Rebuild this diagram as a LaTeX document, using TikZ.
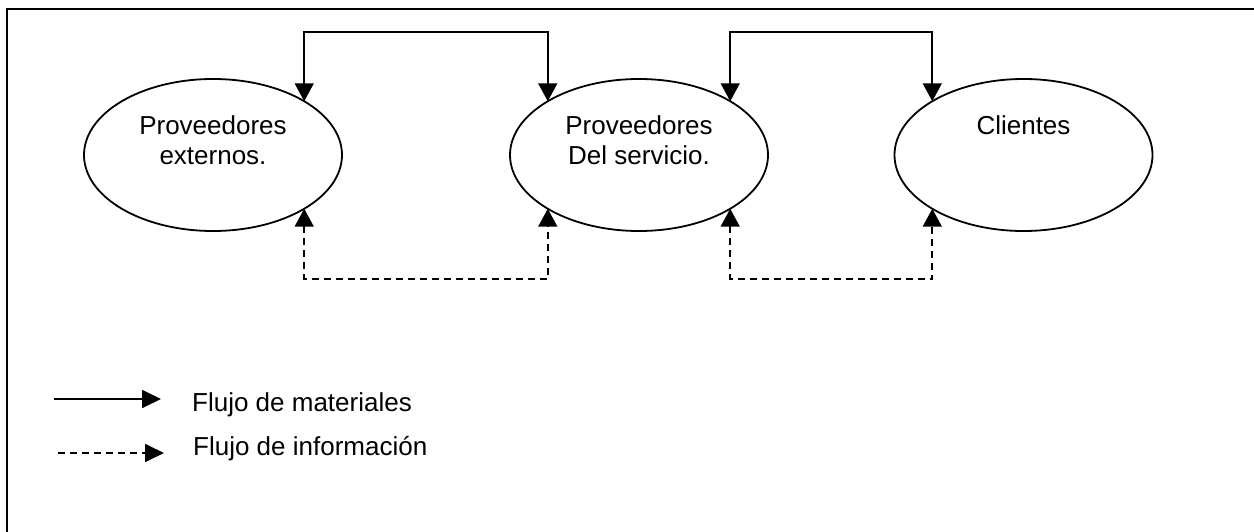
\documentclass[tikz,border=0pt]{standalone}
\usepackage{fontspec}
\setmainfont{Liberation Sans}
\usetikzlibrary{arrows.meta,shapes.geometric}
\begin{document}
\begin{tikzpicture}[x=1pt,y=-1pt,
  actor/.style={draw=black, line width=1.8pt, ellipse, minimum width=258pt, minimum height=152pt, inner sep=0pt, outer sep=0pt},
  lbl/.style={font=\fontsize{26}{30}\selectfont, align=center, inner sep=0pt, anchor=north},
  legtext/.style={font=\fontsize{26}{30}\selectfont, inner sep=0pt, anchor=base west},
  tip/.style={Triangle[length=18pt,width=19pt]},
  flow/.style={line width=1.8pt, {Triangle[length=18pt,width=19pt]}-{Triangle[length=18pt,width=19pt]}},
  info/.style={flow, dash pattern=on 7pt off 5pt},
  legflow/.style={line width=1.8pt, -{Triangle[length=19pt,width=18pt]}},
  leginfo/.style={legflow, dash pattern=on 7pt off 5pt},
  frame/.style={line width=2.2pt}]
\useasboundingbox (0,0) rectangle (1254,532);
% frame (only top and left edges fall inside the picture)
\draw[frame] (7,560) -- (7,9) -- (1280,9);
% actors
\node[actor] (e1) at (213,155) {};
\node[actor] (e2) at (639,155) {};
\node[actor] (e3) at (1023.5,155) {};
\node[lbl] (t1) at (213,115.5) {Proveedores\\externos.};
\node[lbl] (t2) at (639,115.5) {Proveedores\\Del servicio.};
\node[lbl] (t3) at (1023.5,115.5) {Clientes};
% connectors
\coordinate (m1) at (426,32);
\coordinate (m2) at (832,32);
\coordinate (b1) at (426,279);
\coordinate (b2) at (832,279);
\draw[flow] (e1.north east) |- (m1) -| (e2.north west);
\draw[flow] (e2.north east) |- (m2) -| (e3.north west);
\draw[info] (e1.south east) |- (b1) -| (e2.south west);
\draw[info] (e2.south east) |- (b2) -| (e3.south west);
% legend
\coordinate (l1s) at (54,399);
\coordinate (l1e) at (161,399);
\coordinate (l2s) at (58,453);
\coordinate (l2e) at (164,453);
\draw[legflow] (l1s) -- (l1e);
\draw[leginfo] (l2s) -- (l2e);
\node[legtext] (lt1) at (192,411) {Flujo de materiales};
\node[legtext] (lt2) at (193,455) {Flujo de información};
\end{tikzpicture}
\end{document}
